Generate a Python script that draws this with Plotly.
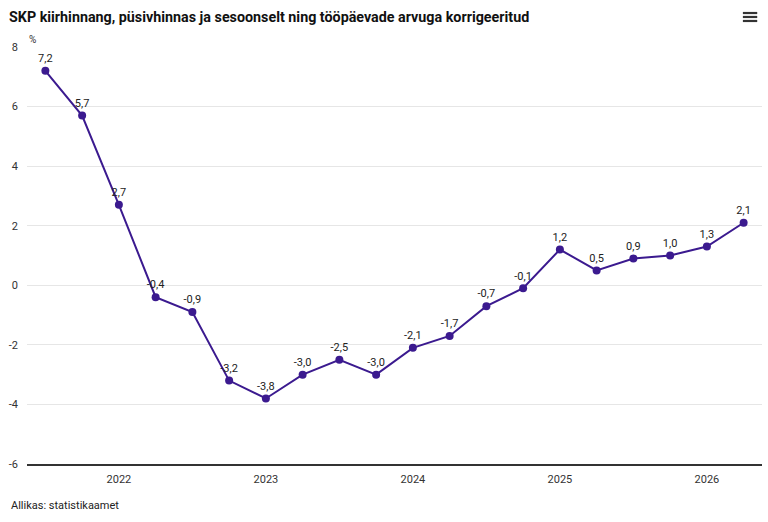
import plotly.graph_objects as go

quarters = [
    "2021 Q3", "2021 Q4",
    "2022 Q1", "2022 Q2", "2022 Q3", "2022 Q4",
    "2023 Q1", "2023 Q2", "2023 Q3", "2023 Q4",
    "2024 Q1", "2024 Q2", "2024 Q3", "2024 Q4",
    "2025 Q1", "2025 Q2", "2025 Q3", "2025 Q4",
    "2026 Q1", "2026 Q2",
]
growth = [7.2, 5.7, 2.7, -0.4, -0.9, -3.2, -3.8, -3.0, -2.5, -3.0,
          -2.1, -1.7, -0.7, -0.1, 1.2, 0.5, 0.9, 1.0, 1.3, 2.1]

year_ticks = ["2022 Q1", "2023 Q1", "2024 Q1", "2025 Q1", "2026 Q1"]
year_labels = ["2022", "2023", "2024", "2025", "2026"]
y_ticks = [-6, -4, -2, 0, 2, 4, 6, 8]

line_color = "#3b1a8f"
text_color = "#333333"

labels = [f"{v:.1f}".replace(".", ",") for v in growth]

fig = go.Figure()
fig.add_trace(go.Scatter(
    x=quarters,
    y=growth,
    mode="lines+markers+text",
    line=dict(color=line_color, width=2),
    marker=dict(color=line_color, size=8),
    text=labels,
    textposition="top center",
    textfont=dict(family="Roboto", size=11, color="#222222"),
    cliponaxis=False,
    hoverinfo="x+y",
))

fig.update_layout(
    width=768,
    height=522,
    paper_bgcolor="white",
    plot_bgcolor="white",
    showlegend=False,
    font=dict(family="Roboto", size=11, color=text_color),
    margin=dict(l=27, r=6, t=47, b=58),
    title=dict(
        text="<b>SKP kiirhinnang, püsivhinnas ja sesoonselt ning tööpäevade arvuga korrigeeritud</b>",
        font=dict(family="Roboto", size=14.3, color="#111111"),
        x=9 / 768,
        xanchor="left",
        xref="container",
        y=1 - 17 / 522,
        yanchor="middle",
        yref="container",
    ),
    xaxis=dict(
        type="category",
        categoryorder="array",
        categoryarray=quarters,
        range=[-0.5, len(quarters) - 0.5],
        tickvals=year_ticks,
        ticktext=year_labels,
        showgrid=False,
        showline=True,
        linecolor="#333333",
        linewidth=1.5,
        ticks="",
        ticklabelstandoff=4,
        tickfont=dict(size=11, color=text_color),
    ),
    yaxis=dict(
        range=[-6, 8],
        tickvals=y_ticks,
        ticktext=[str(v) for v in y_ticks],
        showgrid=True,
        gridcolor="#e6e6e6",
        gridwidth=1,
        zeroline=False,
        showline=False,
        ticks="",
        ticklabelstandoff=8,
        tickfont=dict(size=11, color=text_color),
    ),
    annotations=[
        dict(text="%", x=0.0, y=1.017, xref="paper", yref="paper",
             xanchor="left", yanchor="middle", showarrow=False,
             font=dict(size=10, color=text_color)),
        dict(text="Allikas: statistikaamet", x=-0.0245, y=-0.1007,
             xref="paper", yref="paper", xanchor="left", yanchor="middle",
             showarrow=False, font=dict(size=11, color="#222222")),
    ],
)

# hamburger menu icon
for yy in [1.0815, 1.072, 1.0624]:
    fig.add_shape(type="line", xref="paper", yref="paper",
                  x0=0.974, x1=0.9935, y0=yy, y1=yy,
                  line=dict(color="#333333", width=2.2))

fig.write_html("out.html", config={"displayModeBar": False},
               post_script="document.body.style.margin='0';")
